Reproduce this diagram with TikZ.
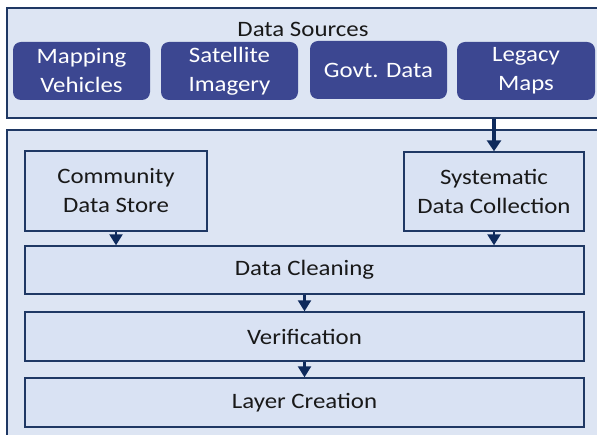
\documentclass[tikz,border=0pt]{standalone}
\usepackage{fontspec}
\setmainfont{Carlito}[FakeStretch=1.13]
\usetikzlibrary{arrows.meta}
\definecolor{outerfill}{HTML}{DDE5F3}
\definecolor{innerfill}{HTML}{D9E2F3}
\definecolor{navy}{HTML}{1F3864}
\definecolor{pillfill}{HTML}{3C4791}
\definecolor{arrowc}{HTML}{0E2A5C}
\tikzset{
  outerbox/.style={draw=navy, line width=1.6pt, fill=outerfill, inner sep=0pt},
  pill/.style={fill=pillfill, rounded corners=8pt, text=white, align=center,
    minimum width=137pt, minimum height=58pt, inner sep=0pt,
    font=\fontsize{22}{29}\selectfont},
  stepbox/.style={draw=navy, line width=1.4pt, fill=innerfill, text=black!90, align=center,
    inner sep=0pt, font=\fontsize{22}{29}\selectfont},
  flow/.style={draw=arrowc, line width=2.4pt, -{Triangle[width=13pt,length=11pt]}},
  bigflow/.style={draw=arrowc, line width=3.6pt, -{Triangle[width=14pt,length=11pt]}}
}
\begin{document}
\begin{tikzpicture}[x=1pt,y=-1pt]
\clip (0,0) rectangle (597,435);
\fill[white] (0,0) rectangle (597,435);
% outer panels
\node[outerbox, minimum width=603pt, minimum height=110pt] (src) at (308.5,63) {};
\node[outerbox, minimum width=603pt, minimum height=320pt] (proc) at (308.5,290) {};
\node[font=\fontsize{22}{29}\selectfont, text=black!90, anchor=base] (title) at (303,37) {Data Sources};
% sources
\node[pill] (mv) at (81.5,71) {Mapping\\Vehicles};
\node[pill] (si) at (229.5,71) {Satellite\\Imagery};
\node[pill] (gd) at (378.5,70) {Govt. Data};
\node[pill, minimum width=138pt] (lm) at (526,71) {Legacy\\Maps};
% process
\node[stepbox, minimum width=182pt, minimum height=80pt] (cds) at (116,191) {Community\\Data Store};
\node[stepbox, minimum width=180pt, minimum height=79pt] (sdc) at (494,191.5) {Systematic\\Data Collection};
\node[stepbox, minimum width=559pt, minimum height=48pt] (clean) at (304.5,270) {Data Cleaning};
\node[stepbox, minimum width=559pt, minimum height=49pt] (ver) at (304.5,336.5) {Verification};
\node[stepbox, minimum width=559pt, minimum height=49pt] (layer) at (304.5,402.5) {Layer Creation};
% connectors
\draw[bigflow] (src.south -| sdc.north) -- (sdc.north);
\draw[flow] (cds.south) -- (cds.south |- clean.north);
\draw[flow] (sdc.south) -- (sdc.south |- clean.north);
\draw[flow] (clean.south) -- (ver.north);
\draw[flow] (ver.south) -- (layer.north);
\end{tikzpicture}
\end{document}
